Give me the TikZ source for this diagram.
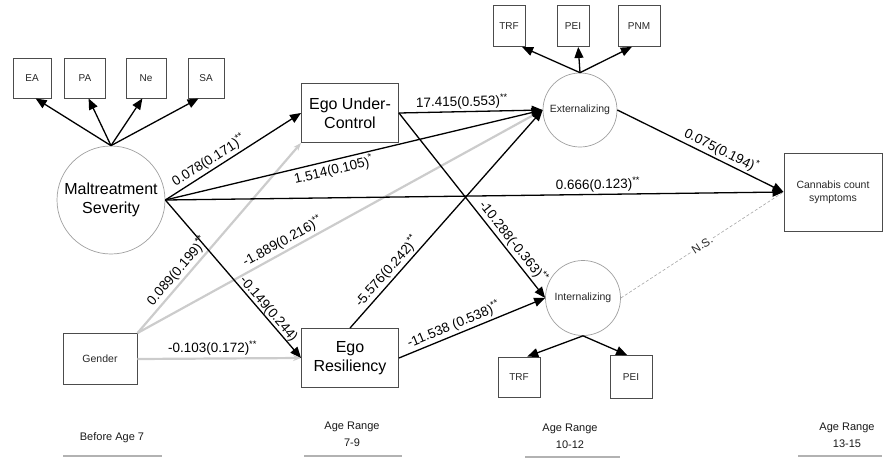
\documentclass[tikz,border=0pt]{standalone}
\usepackage{fontspec}
\setmainfont{Liberation Sans}
\usetikzlibrary{arrows.meta}

\tikzset{
  latent/.style={circle, draw=gray!75, line width=0.7pt, align=center, inner sep=0pt},
  obsbox/.style={rectangle, draw=gray!60!black, line width=0.9pt, align=center, inner sep=1pt},
  indbox/.style={obsbox, minimum width=38pt, minimum height=40pt,
    font=\fontsize{10}{12}\selectfont, text=gray!30!black},
  bigtxt/.style={font=\fontsize{16}{19}\selectfont},
  smalltxt/.style={font=\fontsize{10.5}{12.6}\selectfont, text=gray!30!black},
  path/.style={line width=1.3pt, -{Triangle[length=11pt,width=9pt]}},
  gpath/.style={line width=2.2pt, gray!40, -{Stealth[length=8pt,width=6pt]}},
  coef/.style={font=\fontsize{13.5}{16}\selectfont, sloped, inner sep=2pt},
  agelab/.style={align=center, font=\fontsize{11}{17}\selectfont, text=gray!20!black},
  ageline/.style={gray!60, line width=1.4pt},
}
\newcommand{\sig}[1]{\textsuperscript{#1}}

\begin{document}
\begin{tikzpicture}[x=1pt,y=1pt]
  \useasboundingbox (0,0) rectangle (884,-458);

  % latent and observed variables
  \node[latent, bigtxt, minimum size=108pt] (mal) at (111,-200) {Maltreatment\\Severity};
  \node[obsbox, bigtxt, minimum width=97pt, minimum height=59pt] (eu) at (350,-113) {Ego Under-\\Control};
  \node[obsbox, bigtxt, minimum width=97pt, minimum height=59pt] (er) at (350,-358) {Ego\\Resiliency};
  \node[obsbox, smalltxt, minimum width=74pt, minimum height=51pt] (gen) at (100,-359) {Gender};
  \node[latent, smalltxt, minimum size=74pt] (ext) at (580,-110) {Externalizing};
  \node[latent, smalltxt, minimum size=75pt] (int) at (583,-298) {Internalizing};
  \node[obsbox, smalltxt, minimum width=98pt, minimum height=78pt] (can) at (833,-192) {Cannabis count\\symptoms};

  % indicators
  \node[indbox] (ea) at (32,-78) {EA};
  \node[indbox, minimum width=41pt] (pa) at (85,-78) {PA};
  \node[indbox, minimum width=40pt] (ne) at (146,-78) {Ne};
  \node[indbox, minimum width=36pt] (sa) at (206,-78) {SA};
  \node[indbox, minimum width=32pt, minimum height=41pt] (etrf) at (509,-26) {TRF};
  \node[indbox, minimum width=32pt, minimum height=41pt] (epei) at (573,-26) {PEI};
  \node[indbox, minimum width=42pt, minimum height=41pt] (epnm) at (639,-26) {PNM};
  \node[indbox, minimum width=42pt, minimum height=40pt] (itrf) at (519,-377) {TRF};
  \node[indbox, minimum width=42pt, minimum height=43pt] (ipei) at (631,-377) {PEI};

  \draw[path] (mal.north) -- (ea.-80);
  \draw[path] (mal.north) -- (pa.-80);
  \draw[path] (mal.north) -- (ne.-100);
  \draw[path] (mal.north) -- (sa.-110);
  \draw[path] (ext.north) -- (etrf.-58);
  \draw[path] (ext.north) -- (epei.-76);
  \draw[path] (ext.north) -- (epnm.-109);
  \draw[path] (int.south) -- (itrf.68);
  \draw[path] (int.south) -- (ipei.100);

  % gender paths
  \draw[gpath] (gen.north east) -- node[coef, pos=0.29, above, text=black] {0.089(0.199)\sig{**}} (eu.south west);
  \draw[gpath] (gen.north east) -- node[coef, pos=0.37, above, text=black] {-1.889(0.216)\sig{**}} (ext.west);
  \draw[gpath] (gen.east) -- node[coef, pos=0.46, above, text=black] {-0.103(0.172)\sig{**}} (er.west);

  % structural paths
  \draw[path] (mal.east) -- node[coef, pos=0.36, above] {0.078(0.171)\sig{**}} (eu.west);
  \draw[path] (mal.east) -- node[coef, pos=0.44, below] {1.514(0.105)\sig{*}} (ext.west);
  \draw[path] (mal.east) -- node[coef, pos=0.70, above] {0.666(0.123)\sig{**}} (can.west);
  \draw[path] (mal.east) -- node[coef, pos=0.72, above, inner sep=0pt] {-0.149(0.244)} (er.west);
  \draw[path] (eu.east) -- node[coef, pos=0.44, above] {17.415(0.553)\sig{**}} (ext.west);
  \draw[path] (eu.east) -- node[coef, pos=0.73, above] {-10.288(-0.363)\sig{**}} (int.west);
  \draw[path] (er.north) -- node[coef, pos=0.23, above] {-5.576(0.242)\sig{**}} (ext.west);
  \draw[path] (er.east) -- node[coef, pos=0.40, above] {-11.538 (0.538)\sig{**}} (int.west);
  \draw[path] (ext.east) -- node[coef, pos=0.6, above] {0.075(0.194)\sig{*}} (can.west);
  \draw[gray!70, densely dashed, line width=0.6pt] (int.east) -- node[coef, pos=0.5, fill=white, inner sep=1pt,
    text=black!85, font=\fontsize{11.5}{13}\selectfont] {N.S.} (can.west);

  % age ranges
  \node[agelab] (age0) at (112,-438) {Before Age 7};
  \node[agelab] (age1) at (352,-434) {Age Range\\7-9};
  \node[agelab] (age2) at (570,-436) {Age Range\\10-12};
  \node[agelab] (age3) at (847,-435) {Age Range\\13-15};
  \draw[ageline] (63,-456) -- (162,-456);
  \draw[ageline] (304,-456) -- (402,-456);
  \draw[ageline] (525,-457) -- (620,-457);
  \draw[ageline] (798,-456) -- (882,-456);
\end{tikzpicture}
\end{document}
